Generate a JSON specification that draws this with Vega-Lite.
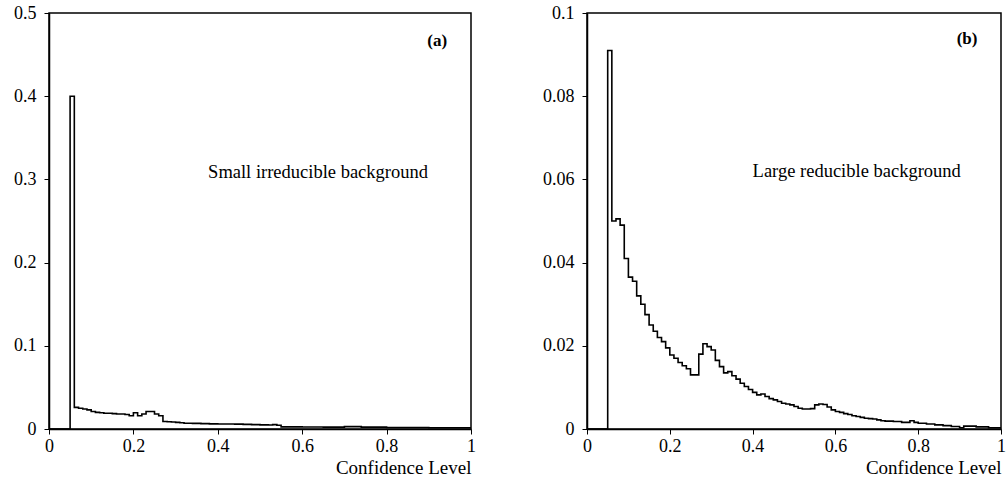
{
  "$schema": "https://vega.github.io/schema/vega-lite/v6.json",
  "padding": {"left": 12, "top": 3, "right": 2, "bottom": 2},
  "background": "white",
  "spacing": 64,
  "datasets": {
    "a": [
      {"x": 0, "y": 0}, {"x": 0.05, "y": 0.40}, {"x": 0.06, "y": 0.026}, {"x": 0.07, "y": 0.025},
      {"x": 0.08, "y": 0.024}, {"x": 0.09, "y": 0.023}, {"x": 0.10, "y": 0.021}, {"x": 0.11, "y": 0.020},
      {"x": 0.12, "y": 0.0195}, {"x": 0.13, "y": 0.019}, {"x": 0.14, "y": 0.019}, {"x": 0.15, "y": 0.0185},
      {"x": 0.16, "y": 0.018}, {"x": 0.17, "y": 0.018}, {"x": 0.18, "y": 0.0175}, {"x": 0.19, "y": 0.016},
      {"x": 0.20, "y": 0.0195}, {"x": 0.21, "y": 0.016}, {"x": 0.22, "y": 0.018}, {"x": 0.23, "y": 0.021},
      {"x": 0.24, "y": 0.021}, {"x": 0.25, "y": 0.018}, {"x": 0.26, "y": 0.016}, {"x": 0.27, "y": 0.009},
      {"x": 0.28, "y": 0.0088}, {"x": 0.29, "y": 0.0085}, {"x": 0.30, "y": 0.008}, {"x": 0.31, "y": 0.0075},
      {"x": 0.32, "y": 0.007}, {"x": 0.34, "y": 0.0068}, {"x": 0.36, "y": 0.0065}, {"x": 0.38, "y": 0.0062},
      {"x": 0.40, "y": 0.006}, {"x": 0.42, "y": 0.006}, {"x": 0.44, "y": 0.0058}, {"x": 0.46, "y": 0.0055},
      {"x": 0.48, "y": 0.0052}, {"x": 0.50, "y": 0.005}, {"x": 0.52, "y": 0.0048}, {"x": 0.53, "y": 0.0052},
      {"x": 0.54, "y": 0.0045}, {"x": 0.55, "y": 0.0025}, {"x": 0.60, "y": 0.0024}, {"x": 0.65, "y": 0.0022},
      {"x": 0.70, "y": 0.0028}, {"x": 0.74, "y": 0.0022}, {"x": 0.80, "y": 0.0018}, {"x": 0.90, "y": 0.0015},
      {"x": 1.0, "y": 0.0015}
    ],
    "b": [
      {"x": 0, "y": 0}, {"x": 0.05, "y": 0.091}, {"x": 0.06, "y": 0.050}, {"x": 0.07, "y": 0.0505},
      {"x": 0.08, "y": 0.049}, {"x": 0.09, "y": 0.041}, {"x": 0.10, "y": 0.0365}, {"x": 0.11, "y": 0.0355},
      {"x": 0.12, "y": 0.032}, {"x": 0.13, "y": 0.030}, {"x": 0.14, "y": 0.0275}, {"x": 0.15, "y": 0.025},
      {"x": 0.16, "y": 0.0235}, {"x": 0.17, "y": 0.022}, {"x": 0.18, "y": 0.021}, {"x": 0.19, "y": 0.0195},
      {"x": 0.20, "y": 0.0178}, {"x": 0.21, "y": 0.017}, {"x": 0.22, "y": 0.016}, {"x": 0.23, "y": 0.0152},
      {"x": 0.24, "y": 0.0145}, {"x": 0.25, "y": 0.013}, {"x": 0.27, "y": 0.018}, {"x": 0.28, "y": 0.0205},
      {"x": 0.29, "y": 0.0198}, {"x": 0.30, "y": 0.019}, {"x": 0.31, "y": 0.0165}, {"x": 0.32, "y": 0.015},
      {"x": 0.33, "y": 0.0135}, {"x": 0.34, "y": 0.0138}, {"x": 0.35, "y": 0.0128}, {"x": 0.36, "y": 0.012},
      {"x": 0.37, "y": 0.011}, {"x": 0.38, "y": 0.0102}, {"x": 0.39, "y": 0.0095}, {"x": 0.40, "y": 0.0088},
      {"x": 0.41, "y": 0.0082}, {"x": 0.42, "y": 0.0084}, {"x": 0.43, "y": 0.0078}, {"x": 0.44, "y": 0.0073},
      {"x": 0.45, "y": 0.007}, {"x": 0.46, "y": 0.0066}, {"x": 0.47, "y": 0.0062}, {"x": 0.48, "y": 0.006},
      {"x": 0.49, "y": 0.0058}, {"x": 0.50, "y": 0.0054}, {"x": 0.51, "y": 0.005}, {"x": 0.52, "y": 0.0048},
      {"x": 0.53, "y": 0.0048}, {"x": 0.54, "y": 0.0049}, {"x": 0.55, "y": 0.0058}, {"x": 0.56, "y": 0.006},
      {"x": 0.57, "y": 0.0059}, {"x": 0.58, "y": 0.0053}, {"x": 0.59, "y": 0.0046}, {"x": 0.60, "y": 0.0042},
      {"x": 0.61, "y": 0.004}, {"x": 0.62, "y": 0.0037}, {"x": 0.63, "y": 0.0035}, {"x": 0.64, "y": 0.0032},
      {"x": 0.65, "y": 0.003}, {"x": 0.66, "y": 0.0028}, {"x": 0.67, "y": 0.0026}, {"x": 0.68, "y": 0.0025},
      {"x": 0.69, "y": 0.0024}, {"x": 0.70, "y": 0.0022}, {"x": 0.71, "y": 0.002}, {"x": 0.72, "y": 0.0019},
      {"x": 0.74, "y": 0.0018}, {"x": 0.76, "y": 0.0016}, {"x": 0.78, "y": 0.002}, {"x": 0.79, "y": 0.0016},
      {"x": 0.80, "y": 0.0014}, {"x": 0.82, "y": 0.0012}, {"x": 0.84, "y": 0.001}, {"x": 0.86, "y": 0.0008},
      {"x": 0.88, "y": 0.0006}, {"x": 0.90, "y": 0.0003}, {"x": 0.91, "y": 0.0007}, {"x": 0.94, "y": 0.0005},
      {"x": 0.97, "y": 0.0003}, {"x": 1.0, "y": 0.0003}
    ]
  },
  "hconcat": [
    {
      "width": 422,
      "height": 416,
      "layer": [
        {
          "data": {"name": "a"},
          "mark": {"type": "line", "interpolate": "step-after", "color": "black", "strokeWidth": 1.6},
          "encoding": {
            "x": {"field": "x", "type": "quantitative", "scale": {"domain": [0, 1], "nice": false},
                  "axis": {"values": [0, 0.2, 0.4, 0.6, 0.8, 1], "format": "~g", "title": "Confidence Level"}},
            "y": {"field": "y", "type": "quantitative", "scale": {"domain": [0, 0.5], "nice": false},
                  "axis": {"values": [0, 0.1, 0.2, 0.3, 0.4, 0.5], "format": "~g", "title": null}}
          }
        },
        {
          "data": {"values": [{"label": "(a)"}]},
          "mark": {"type": "text", "font": "Liberation Serif", "fontSize": 17, "fontWeight": "bold", "align": "center", "baseline": "middle", "color": "black"},
          "encoding": {"x": {"datum": 0.92}, "y": {"datum": 0.466}, "text": {"field": "label"}}
        },
        {
          "data": {"values": [{"label": "Small irreducible background"}]},
          "mark": {"type": "text", "font": "Liberation Serif", "fontSize": 18.5, "align": "left", "baseline": "middle", "color": "black"},
          "encoding": {"x": {"datum": 0.377}, "y": {"datum": 0.309}, "text": {"field": "label"}}
        }
      ]
    },
    {
      "width": 414,
      "height": 416,
      "layer": [
        {
          "data": {"name": "b"},
          "mark": {"type": "line", "interpolate": "step-after", "color": "black", "strokeWidth": 1.6},
          "encoding": {
            "x": {"field": "x", "type": "quantitative", "scale": {"domain": [0, 1], "nice": false},
                  "axis": {"values": [0, 0.2, 0.4, 0.6, 0.8, 1], "format": "~g", "title": "Confidence Level"}},
            "y": {"field": "y", "type": "quantitative", "scale": {"domain": [0, 0.1], "nice": false},
                  "axis": {"values": [0, 0.02, 0.04, 0.06, 0.08, 0.1], "format": "~g", "title": null}}
          }
        },
        {
          "data": {"values": [{"label": "(b)"}]},
          "mark": {"type": "text", "font": "Liberation Serif", "fontSize": 17, "fontWeight": "bold", "align": "center", "baseline": "middle", "color": "black"},
          "encoding": {"x": {"datum": 0.918}, "y": {"datum": 0.0937}, "text": {"field": "label"}}
        },
        {
          "data": {"values": [{"label": "Large reducible background"}]},
          "mark": {"type": "text", "font": "Liberation Serif", "fontSize": 18.5, "align": "left", "baseline": "middle", "color": "black"},
          "encoding": {"x": {"datum": 0.40}, "y": {"datum": 0.062}, "text": {"field": "label"}}
        }
      ]
    }
  ],
  "config": {
    "view": {"stroke": "black", "strokeWidth": 1.5},
    "axis": {
      "grid": false,
      "domainColor": "black",
      "domainWidth": 1.5,
      "tickColor": "black",
      "tickSize": 5,
      "labelColor": "black",
      "labelFont": "Liberation Serif",
      "labelFontSize": 18,
      "titleFont": "Liberation Serif",
      "titleFontSize": 19,
      "titleFontWeight": "normal",
      "titleColor": "black"
    },
    "axisX": {"labelFont": "Liberation Serif", "labelPadding": 3, "titleAnchor": "end", "titlePadding": 3, "labelFlush": false},
    "axisY": {"labelFont": "Liberation Serif", "labelPadding": 8, "labelFlush": false}
  }
}
